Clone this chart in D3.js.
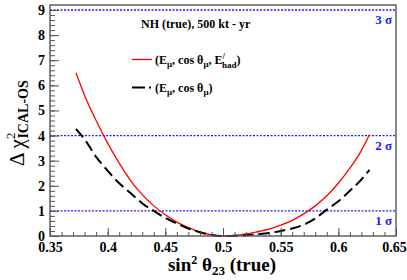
<!DOCTYPE html>
<html>
<head>
<meta charset="utf-8">
<script src="https://cdn.jsdelivr.net/npm/d3@7"></script>
<style>
  body { margin: 0; background: #fff; }
  text { font-family: "Liberation Serif", "Times New Roman", serif; }
</style>
</head>
<body>
<script>
// sin^2(theta23) grid and delta chi^2 values
var sinSq = [0.3725, 0.38, 0.39, 0.40, 0.41, 0.42, 0.43, 0.44, 0.45, 0.46, 0.47, 0.48, 0.49, 0.50,
             0.51, 0.52, 0.53, 0.54, 0.55, 0.56, 0.57, 0.58, 0.59, 0.60, 0.61, 0.62, 0.627];
var chiHad = [6.5, 5.6, 4.6, 3.7, 2.9, 2.2, 1.65, 1.2, 0.85, 0.55, 0.33, 0.16, 0.04, 0.0,
              0.02, 0.08, 0.17, 0.27, 0.43, 0.62, 0.88, 1.2, 1.6, 2.1, 2.7, 3.4, 4.04];
var chiNoHad = [4.26, 3.85, 3.15, 2.6, 2.1, 1.7, 1.3, 1.0, 0.72, 0.5, 0.3, 0.15, 0.04, 0.0,
                0.01, 0.03, 0.07, 0.12, 0.2, 0.3, 0.45, 0.7, 1.05, 1.38, 1.8, 2.25, 2.63];
var sigmaLevels = [1, 4, 9];
var sigmaLabels = ["1 σ", "2 σ", "3 σ"];
var xTicks = [0.35, 0.4, 0.45, 0.5, 0.55, 0.6, 0.65];
var yTicks = [0, 1, 2, 3, 4, 5, 6, 7, 8, 9];

var fullwidth = 407, fullheight = 280;
var plot = {left: 50, right: 396, top: 5, bottom: 236};

var x = d3.scaleLinear().domain([0.35, 0.65]).range([plot.left, plot.right]);
var y = d3.scaleLinear().domain([0, 9.2]).range([plot.bottom, plot.top]);

var svg = d3.select("body").append("svg")
    .attr("width", fullwidth)
    .attr("height", fullheight);

svg.append("rect").attr("width", fullwidth).attr("height", fullheight).attr("fill", "#fff");

// sigma lines
svg.selectAll(".sig")
    .data(sigmaLevels)
  .enter().append("line")
    .attr("x1", plot.left).attr("x2", plot.right)
    .attr("y1", function(d) { return y(d); })
    .attr("y2", function(d) { return y(d); })
    .attr("stroke", "#1a1aff")
    .attr("stroke-width", 1.3)
    .attr("stroke-dasharray", "2,1.5");

svg.selectAll(".siglab")
    .data(sigmaLevels)
  .enter().append("text")
    .attr("x", plot.right - 4)
    .attr("y", function(d) { return y(d) + 14; })
    .attr("text-anchor", "end")
    .attr("fill", "#1a1aff")
    .style("font-size", "13px")
    .style("font-weight", "bold")
    .text(function(d, i) { return sigmaLabels[i]; });

// curves
var line = d3.line()
    .x(function(d) { return x(d[0]); })
    .y(function(d) { return y(d[1]); })
    .curve(d3.curveMonotoneX);

svg.append("path")
    .datum(d3.zip(sinSq, chiHad))
    .attr("d", line)
    .attr("fill", "none")
    .attr("stroke", "#ff0000")
    .attr("stroke-width", 1.3);

svg.append("path")
    .datum(d3.zip(sinSq, chiNoHad))
    .attr("d", line)
    .attr("fill", "none")
    .attr("stroke", "#000")
    .attr("stroke-width", 2)
    .attr("stroke-dasharray", "11,5");

// axes with ticks inside the frame
var fmt = function(d) { return String(+d.toFixed(2)); };
var minorX = d3.range(35, 66).map(function(i) { return i / 100; });
var minorY = d3.range(0, 46).map(function(i) { return i / 5; });

svg.append("g")
    .attr("transform", "translate(0," + plot.bottom + ")")
    .call(d3.axisBottom(x).tickValues(minorX).tickSize(-4).tickFormat(""))
    .call(function(g) { g.select(".domain").remove(); });

var xAxis = svg.append("g")
    .attr("transform", "translate(0," + plot.bottom + ")")
    .call(d3.axisBottom(x).tickValues(xTicks).tickSize(-8).tickPadding(6).tickFormat(fmt))
    .call(function(g) { g.select(".domain").remove(); });

svg.append("g")
    .attr("transform", "translate(" + plot.left + ",0)")
    .call(d3.axisLeft(y).tickValues(minorY).tickSize(-5).tickFormat(""))
    .call(function(g) { g.select(".domain").remove(); });

svg.append("g")
    .attr("transform", "translate(" + plot.left + ",0)")
    .call(d3.axisLeft(y).tickValues(yTicks).tickSize(-9).tickPadding(5).tickFormat(d3.format("d")))
    .call(function(g) { g.select(".domain").remove(); });

svg.selectAll(".tick line").attr("stroke", "#555");
svg.selectAll(".tick text")
    .attr("fill", "#000")
    .style("font-family", "Liberation Serif")
    .style("font-weight", "bold")
    .style("font-size", "14px");

// last x label sits at the window edge
xAxis.selectAll(".tick text").filter(function(d) { return d === 0.65; }).attr("x", -2);

// frame
svg.append("rect")
    .attr("x", plot.left).attr("y", plot.top)
    .attr("width", plot.right - plot.left).attr("height", plot.bottom - plot.top)
    .attr("fill", "none")
    .attr("stroke", "#555")
    .attr("stroke-width", 1.4);

// legend
svg.append("text")
    .attr("x", 141).attr("y", 28)
    .style("font-size", "12px").style("font-weight", "bold")
    .text("NH (true), 500 kt - yr");

svg.append("line")
    .attr("x1", 132).attr("x2", 152).attr("y1", 59.5).attr("y2", 59.5)
    .attr("stroke", "#ff0000").attr("stroke-width", 1.3);

var t1 = svg.append("text")
    .attr("x", 155).attr("y", 64)
    .style("font-size", "12px").style("font-weight", "bold");
t1.append("tspan").text("(E");
t1.append("tspan").attr("dy", 3).style("font-size", "9px").text("μ");
t1.append("tspan").attr("dy", -3).text(", cos θ");
t1.append("tspan").attr("dy", 3).style("font-size", "9px").text("μ");
t1.append("tspan").attr("dy", -3).text(", E");
t1.append("tspan").attr("dy", -5).style("font-size", "9px").text("/");
t1.append("tspan").attr("dx", -3).attr("dy", 9).style("font-size", "9px").text("had");
t1.append("tspan").attr("dy", -4).text(")");

svg.append("line")
    .attr("x1", 132).attr("x2", 151).attr("y1", 87.5).attr("y2", 87.5)
    .attr("stroke", "#000").attr("stroke-width", 2)
    .attr("stroke-dasharray", "13,4");

var t2 = svg.append("text")
    .attr("x", 155).attr("y", 92)
    .style("font-size", "12px").style("font-weight", "bold");
t2.append("tspan").text("(E");
t2.append("tspan").attr("dy", 3).style("font-size", "9px").text("μ");
t2.append("tspan").attr("dy", -3).text(", cos θ");
t2.append("tspan").attr("dy", 3).style("font-size", "9px").text("μ");
t2.append("tspan").attr("dy", -3).text(")");

// x axis title
var xt = svg.append("text")
    .attr("x", 222).attr("y", 271)
    .attr("text-anchor", "middle")
    .style("font-size", "19px").style("font-weight", "bold");
xt.append("tspan").text("sin");
xt.append("tspan").attr("dy", -7).style("font-size", "12px").text("2");
xt.append("tspan").attr("dy", 7).text(" θ");
xt.append("tspan").attr("dy", 4).style("font-size", "13px").text("23");
xt.append("tspan").attr("dy", -4).text(" (true)");

// y axis title
var yt = svg.append("text")
    .attr("transform", "translate(24,166) rotate(-90)")
    .style("font-size", "21px");
yt.append("tspan").text("Δ χ");
yt.append("tspan").attr("dy", -9).style("font-size", "13px").text("2");
yt.append("tspan").attr("dx", -6).attr("dy", 13)
    .style("font-size", "14px").style("font-weight", "bold").text("ICAL-OS");
</script>
</body>
</html>
